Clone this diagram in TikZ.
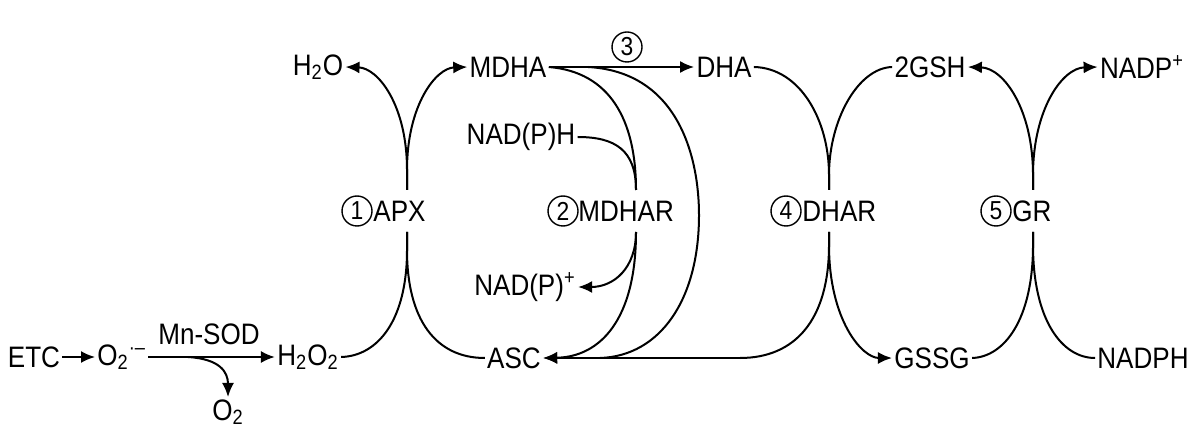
\documentclass[tikz,border=0pt]{standalone}
\usepackage{fontspec}
\setmainfont{Liberation Sans}
\newfontfamily\lblfont[FakeStretch=0.88]{Liberation Sans}
\usetikzlibrary{arrows.meta}
\begin{document}
\begin{tikzpicture}[x=0.5pt,y=-0.5pt,
  lbl/.style={inner sep=1pt,font=\lblfont\fontsize{14.8}{16}\selectfont},
  num/.style={draw,circle,line width=0.7pt,minimum size=15pt,inner sep=0pt,font=\lblfont\fontsize{13}{14}\selectfont},
  conn/.style={line width=1pt},
  arr/.style={conn,-{Latex[length=7pt,width=6pt]}}]
\useasboundingbox (0,0) rectangle (1192,432);
% top row
\node[lbl] (h2o) at (318,67) {H\textsubscript{2}O};
\node[lbl] (mdha) at (508,67) {MDHA};
\node[num] (c3) at (627,47) {3};
\node[lbl] (dha) at (724,67) {DHA};
\node[lbl] (gsh) at (930,67) {2GSH};
\node[lbl] (nadpp) at (1142,67) {NADP\textsuperscript{+}};
\node[lbl] (nadph) at (521,137) {NAD(P)H};
% enzyme row
\node[num] (c1) at (357,211) {1};
\node[lbl,anchor=west] (apx) at (371,211) {APX};
\node[num] (c2) at (563,211) {2};
\node[lbl,anchor=west] (mdhar) at (576,211) {MDHAR};
\node[num] (c4) at (786,211) {4};
\node[lbl,anchor=west] (dhar) at (800,211) {DHAR};
\node[num] (c5) at (996,211) {5};
\node[lbl,anchor=west] (gr) at (1010,211) {GR};
\node[lbl] (nadpplus) at (525,287) {NAD(P)\textsuperscript{+}};
% bottom row
\node[lbl] (etc) at (34,357) {ETC};
\node[lbl,anchor=west] (o2r) at (95,357) {O\textsubscript{2}\textsuperscript{·–}};
\node[lbl] (sod) at (209,334) {Mn-SOD};
\node[lbl] (h2o2) at (308,357) {H\textsubscript{2}O\textsubscript{2}};
\node[lbl] (asc) at (514,358) {ASC};
\node[lbl] (gssg) at (932,358) {GSSG};
\node[lbl] (nadphb) at (1143,358) {NADPH};
\node[lbl] (o2) at (228,412) {O\textsubscript{2}};
% stem points
\coordinate (apxT) at (407,190);
\coordinate (apxB) at (407,232);
\coordinate (mdharT) at (636,190);
\coordinate (mdharB) at (636,232);
\coordinate (dharT) at (829,190);
\coordinate (dharB) at (829,232);
\coordinate (grT) at (1033,190);
\coordinate (grB) at (1033,232);
\coordinate (m3) at (588,67);
\coordinate (a3) at (600,358);
\coordinate (d4) at (740,358);
\coordinate (sodB) at (188,357);
% APX
\draw[arr] (apxT) -- (407,170) .. controls (407,105) and (378,68) .. (h2o.east);
\draw[arr] (apxT) -- (407,170) .. controls (407,105) and (436,68) .. (mdha.west);
\draw[conn] (h2o2.east) .. controls (378,356) and (407,320) .. (407,250) -- (apxB);
\draw[conn] (asc.west) .. controls (436,358) and (407,320) .. (407,250) -- (apxB);
% MDHA -> DHA (3)
\draw[arr] (mdha.east) -- (dha.west);
\draw[conn] (m3) .. controls (680,72) and (699,160) .. (699,215) .. controls (699,300) and (660,356) .. (a3);
% MDHAR
\draw[conn] (mdha.east) .. controls (610,72) and (636,120) .. (mdharT);
\draw[conn] (nadph.east) .. controls (615,137) and (636,150) .. (mdharT);
\draw[arr] (mdharB) .. controls (636,268) and (614,287) .. (nadpplus.east);
\draw[arr] (mdharB) .. controls (636,320) and (600,357) .. (asc.east);
% DHAR
\draw[conn] (dha.east) .. controls (800,68) and (829,120) .. (829,175) -- (dharT);
\draw[conn] (gsh.west) .. controls (858,68) and (829,120) .. (829,175) -- (dharT);
\draw[conn] (dharB) -- (829,245) .. controls (829,320) and (795,358) .. (d4);
\draw[arr] (d4) -- (asc.east);
\draw[arr] (dharB) -- (829,245) .. controls (829,320) and (862,358) .. (gssg.west);
% GR
\draw[arr] (grT) -- (1033,175) .. controls (1033,110) and (1004,68) .. (gsh.east);
\draw[arr] (grT) -- (1033,175) .. controls (1033,110) and (1062,68) .. (nadpp.west);
\draw[conn] (gssg.east) .. controls (1004,357) and (1033,320) .. (1033,245) -- (grB);
\draw[conn] (nadphb.west) .. controls (1062,358) and (1033,320) .. (1033,245) -- (grB);
% bottom left
\draw[arr] (etc.east) -- (o2r.west);
\draw[arr] (o2r.east) -- (h2o2.west);
\draw[arr] (sodB) .. controls (220,359) and (228,372) .. (o2.north);
\end{tikzpicture}
\end{document}
